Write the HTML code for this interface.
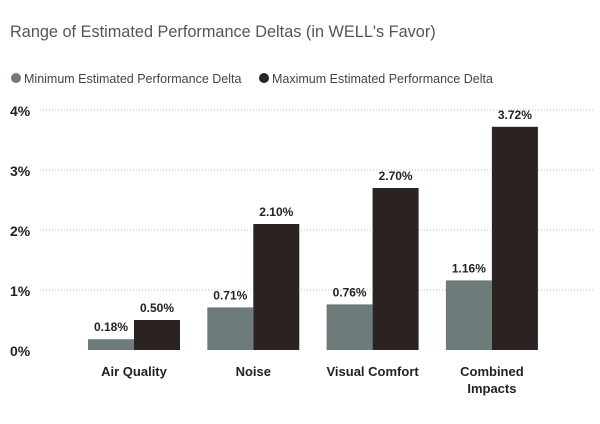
<!DOCTYPE html>
<html><head><meta charset="utf-8"><style>
body{margin:0;background:#fff;width:600px;height:419px;overflow:hidden;font-family:"Liberation Sans",sans-serif}
</style></head><body>
<svg id="c" width="600" height="419" xmlns="http://www.w3.org/2000/svg">
<text x="10" y="37" font-size="16.3" fill="#555">Range of Estimated Performance Deltas (in WELL's Favor)</text>
<g>
<circle cx="16" cy="78" r="5" fill="#6e7b7b"/>
<text x="24" y="83" font-size="12.5" fill="#444">Minimum Estimated Performance Delta</text>
<circle cx="264" cy="78" r="5" fill="#2b2222"/>
<text x="272" y="83" font-size="12.5" fill="#444">Maximum Estimated Performance Delta</text>
</g>
<g id="grid"></g><g id="bars"></g>
</svg>
<script>
const categories=[["Air Quality"],["Noise"],["Visual Comfort"],["Combined","Impacts"]];
const minValues=[0.18,0.71,0.76,1.16];
const maxValues=[0.50,2.10,2.70,3.72];
const yTicks=[0,1,2,3,4];
const NS="http://www.w3.org/2000/svg";
const y=v=>350-v*60;
const xc=i=>134+i*119.3;
const bw=46;
function mk(t,a,p){const e=document.createElementNS(NS,t);for(const k in a)e.setAttribute(k,a[k]);p.appendChild(e);return e;}
const g=document.getElementById('grid'),b=document.getElementById('bars');
yTicks.forEach(t=>{
  if(t>0){const l=mk('line',{x1:40,x2:595,y1:y(t),y2:y(t),stroke:'#bbb','stroke-dasharray':'1,2'},g);
  
  }
  const tx=mk('text',{x:10,y:y(t)+6,'font-size':14,'font-weight':'bold',fill:'#222'},g);tx.textContent=t+'%';
  
  
});
categories.forEach((c,i)=>{
  [[minValues[i],'#6e7b7b',-bw],[maxValues[i],'#2b2222',0]].forEach(([v,col,off],j)=>{
    const r=mk('rect',{x:xc(i)+off,y:y(v),width:bw,height:350-y(v),fill:col},b);
    
    
    const t=mk('text',{x:xc(i)+off+bw/2,y:y(v)-8,'font-size':12,'font-weight':'bold','text-anchor':'middle',fill:'#222'},b);
    t.textContent=v.toFixed(2)+'%';
    
    
  });
  c.forEach((s,k)=>{const t=mk('text',{x:xc(i),y:376+k*17,'font-size':13,'font-weight':'bold','text-anchor':'middle',fill:'#222'},b);t.textContent=s;
    
    });
});
</script>
</body></html>
